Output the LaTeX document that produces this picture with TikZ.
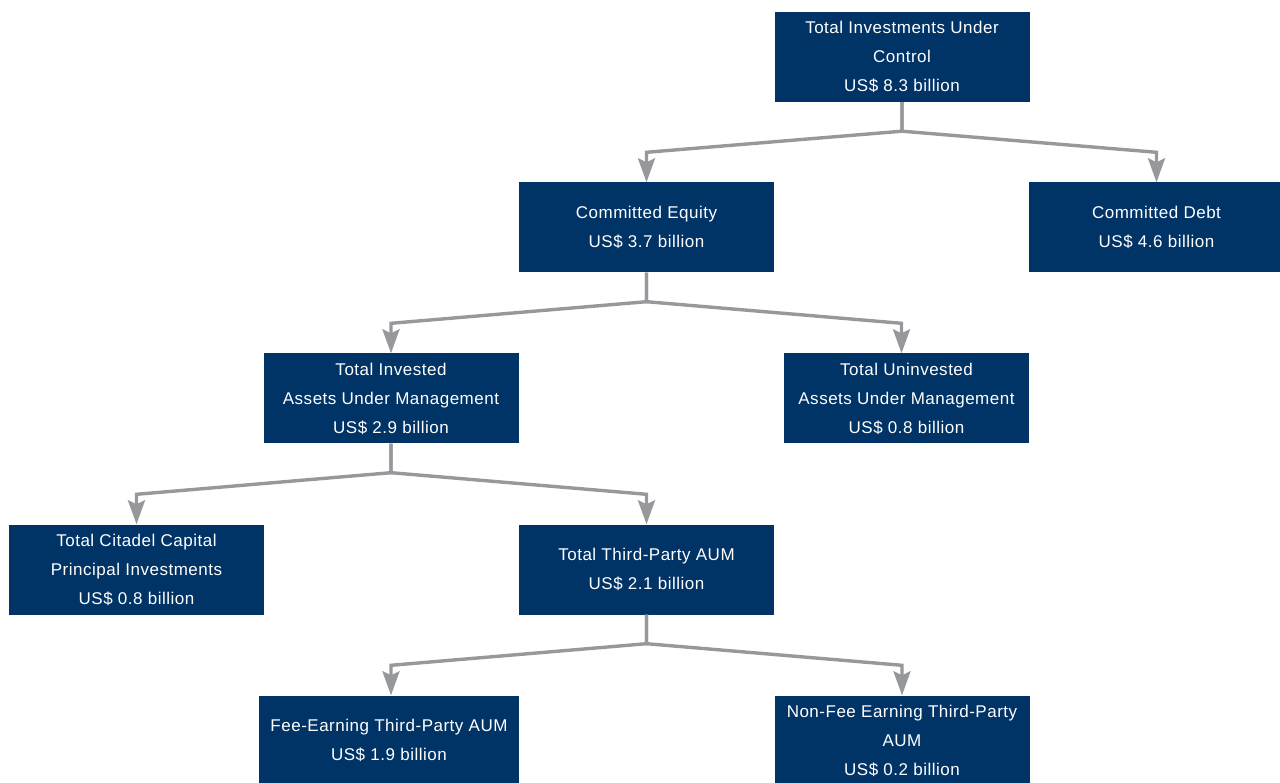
\documentclass[tikz,border=0pt]{standalone}
\usepackage{fontspec}
\usepackage{tikz}
\usetikzlibrary{arrows.meta, calc}
\newfontfamily\boxfont[LetterSpace=3]{Liberation Sans}
\definecolor{navyblue}{RGB}{0, 51, 102}
\definecolor{linkgray}{RGB}{150, 152, 156}

\begin{document}
\begin{tikzpicture}[x=1pt, y=-1pt,
        fund/.style={fill=navyblue, text=white, minimum width=255pt, minimum height=90pt, inner sep=0pt, align=center, font=\boxfont\fontsize{17}{29}\selectfont},
        arrow/.style={-{Stealth[length=24pt, width=17pt, inset=4pt]}, line width=3.4pt, draw=linkgray}
    ]
        \useasboundingbox (0,0) rectangle (1280,783);
        \clip (0,0) rectangle (1280,783);

        \node[fund] (control) at (902,57) {Total Investments Under\\Control\\US\$ 8.3 billion};
        \node[fund] (equity) at (646.5,227.5) {Committed Equity\\US\$ 3.7 billion};
        \node[fund] (debt) at (1156.5,227.5) {Committed Debt\\US\$ 4.6 billion};
        \node[fund] (invested) at (391,398.5) {Total Invested\\Assets Under Management\\US\$ 2.9 billion};
        \node[fund, minimum width=245pt] (uninvested) at (906.5,398.5) {Total Uninvested\\Assets Under Management\\US\$ 0.8 billion};
        \node[fund] (principal) at (136.5,569.5) {Total Citadel Capital\\Principal Investments\\US\$ 0.8 billion};
        \node[fund] (thirdparty) at (646.5,569.5) {Total Third-Party AUM\\US\$ 2.1 billion};
        \node[fund, minimum width=260pt] (feeearning) at (389,740.5) {Fee-Earning Third-Party AUM\\US\$ 1.9 billion};
        \node[fund] (nonfee) at (902,740.5) {Non-Fee Earning Third-Party\\AUM\\US\$ 0.2 billion};

        \draw[arrow] (control.south) -- ++(0,29) -- ($(equity.north)+(0,-30)$) -- (equity.north);
        \draw[arrow] (control.south) -- ++(0,29) -- ($(debt.north)+(0,-30)$) -- (debt.north);
        \draw[arrow] (equity.south) -- ++(0,29) -- ($(invested.north)+(0,-30)$) -- (invested.north);
        \draw[arrow] (equity.south) -- ++(0,29) -- ($(uninvested.north)+(-5,-30)$) -- ($(uninvested.north)+(-5,0)$);
        \draw[arrow] (invested.south) -- ++(0,29) -- ($(principal.north)+(0,-30)$) -- (principal.north);
        \draw[arrow] (invested.south) -- ++(0,29) -- ($(thirdparty.north)+(0,-30)$) -- (thirdparty.north);
        \draw[arrow] (thirdparty.south) -- ++(0,29) -- ($(feeearning.north)+(2,-30)$) -- ($(feeearning.north)+(2,0)$);
        \draw[arrow] (thirdparty.south) -- ++(0,29) -- ($(nonfee.north)+(0,-30)$) -- (nonfee.north);
    \end{tikzpicture}
\end{document}
